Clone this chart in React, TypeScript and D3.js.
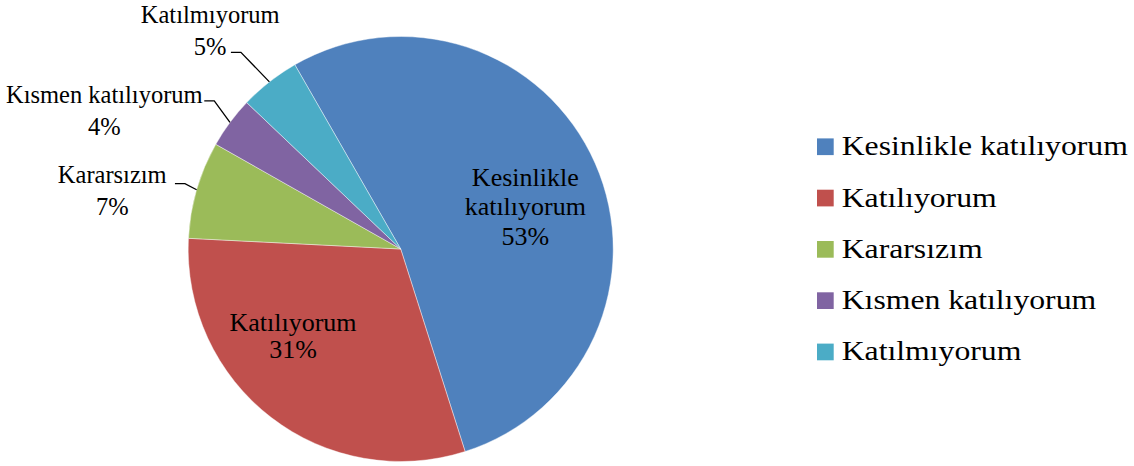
import React from "react";
import * as d3 from "d3";

const categories = ["Kesinlikle katılıyorum", "Katılıyorum", "Kararsızım", "Kısmen katılıyorum", "Katılmıyorum"];
const values = [53.4, 30.7, 7.4, 3.9, 4.6];
const colors = ["#4F81BD", "#C0504D", "#9BBB59", "#8064A2", "#4BACC6"];
const labelLines = [["Kesinlikle", "katılıyorum"], ["Katılıyorum"], ["Kararsızım"], ["Kısmen katılıyorum"], ["Katılmıyorum"]];

const W = 1134, H = 466;
const CX = 400.7, CY = 249, R = 212.5;
const START_DEG = -29.88;
const FONT = "Liberation Serif, Tinos, DejaVu Serif, Noto Serif, serif";

const insideLayout: Record<number, { shift: number; k: number; lh: number }> = {
  0: { shift: 4.8, k: 0.62, lh: 29.7 },
  1: { shift: 13.6, k: 0.65, lh: 27 },
};
const outsideLayout: Record<number, { elbow: [number, number]; label: [number, number] }> = {
  2: { elbow: [-11.7, -6], label: [-62.7, 15.2] },
  3: { elbow: [-15.7, -21.7], label: [-100, 18.4] },
  4: { elbow: [-28.5, -29.6], label: [-20.7, -13.2] },
};

export default function App() {
  const pie = d3
    .pie<number>()
    .sort(null)
    .value((d) => d)
    .startAngle((START_DEG * Math.PI) / 180)
    .endAngle((START_DEG * Math.PI) / 180 + 2 * Math.PI);
  const arcs = pie(values);
  const arc = d3.arc<d3.PieArcDatum<number>>().innerRadius(0).outerRadius(R);
  const total = d3.sum(values);
  const pct = (v: number) => `${Math.round((v / total) * 100)}%`;
  const polar = (a: number, r: number): [number, number] => [Math.sin(a) * r, -Math.cos(a) * r];

  const legendX = 817, legendY0 = 146.7, legendStep = 51.3;

  return (
    <svg width={W} height={H} style={{ position: "absolute", left: 0, top: 0, background: "#fff", fontFamily: FONT }}>
      <g transform={`translate(${CX},${CY})`}>
        {arcs.map((a, i) => (
          <path key={i} d={arc(a) || ""} fill={colors[i]} stroke="#ffffff" strokeWidth={0.6} strokeOpacity={0.7} />
        ))}
        {arcs.map((a, i) => {
          const mid = (a.startAngle + a.endAngle) / 2;
          const lines = [...labelLines[i], pct(values[i])];
          if (insideLayout[i]) {
            const L = insideLayout[i];
            const [x, y] = polar(mid + (L.shift * Math.PI) / 180, R * L.k);
            const n = lines.length;
            return (
              <text key={"l" + i} textAnchor="middle" fontSize={26} fill="#000">
                {lines.map((t, j) => (
                  <tspan key={j} x={x} y={y + 9 + (j - (n - 1) / 2) * L.lh}>
                    {t}
                  </tspan>
                ))}
              </text>
            );
          }
          const L = outsideLayout[i];
          const [ex, ey] = polar(mid, R);
          const bx = ex + L.elbow[0], by = ey + L.elbow[1];
          const tx = bx - 10, ty = by;
          const lx = tx + L.label[0], ly = ty + L.label[1];
          const n = lines.length;
          const lh = 31.5;
          return (
            <g key={"l" + i}>
              <polyline points={`${ex},${ey} ${bx},${by} ${tx},${ty}`} fill="none" stroke="#000" strokeWidth={1.3} />
              <text textAnchor="middle" fontSize={24.5} fill="#000">
                {lines.map((t, j) => (
                  <tspan key={j} x={lx} y={ly + (j - (n - 1) / 2) * lh}>
                    {t}
                  </tspan>
                ))}
              </text>
            </g>
          );
        })}
      </g>
      <g>
        {categories.map((c, i) => {
          const cy = legendY0 + i * legendStep;
          return (
            <g key={c}>
              <rect x={legendX} y={cy - 8.3} width={16.7} height={16.7} fill={colors[i]} />
              <g transform={`translate(${legendX + 24.7},${cy + 8.5}) scale(1.175,1)`}>
                <text fontSize={27} fill="#000">
                  {c}
                </text>
              </g>
            </g>
          );
        })}
      </g>
    </svg>
  );
}
